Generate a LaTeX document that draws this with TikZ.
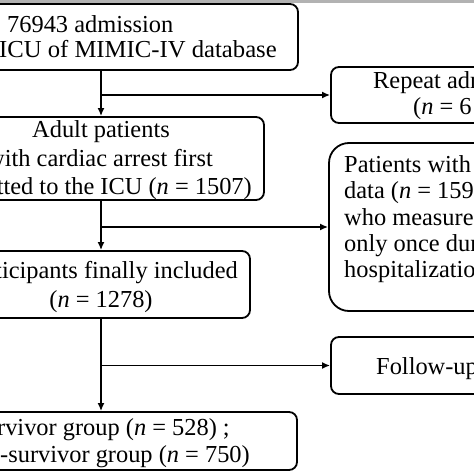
\documentclass[tikz,border=0pt]{standalone}
\usepackage{fontspec}
\setmainfont{Liberation Serif}
\usetikzlibrary{arrows.meta}
\begin{document}
\begin{tikzpicture}[x=1pt,y=1pt,
  box/.style={draw, line width=1.8pt, rounded corners=8pt, inner sep=0pt, fill=white},
  txt/.style={font=\fontsize{24.4}{28}\selectfont, inner sep=0pt},
  conn/.style={line width=1.8pt},
  arr/.style={line width=1.8pt, -{Latex[length=8pt,width=7pt]}}]
\useasboundingbox (0,0) rectangle (474,-474);
\clip (0,0) rectangle (474,-474);
\fill[white] (0,0) rectangle (474,-474);
\fill[gray!60] (0,0) rectangle (474,-2.5);
% boxes
\node[box, minimum width=328pt, minimum height=66pt] (top) at (134,-37) {};
\node[box, minimum width=189pt, minimum height=56pt] (repeat) at (425.5,-95) {};
\node[box, minimum width=304pt, minimum height=83pt] (adult) at (112,-158.5) {};
\node[box, rounded corners=20pt, minimum width=191pt, minimum height=168pt] (patients) at (424.5,-227) {};
\node[box, minimum width=290pt, minimum height=67pt] (part) at (105,-284.5) {};
\node[box, minimum width=189pt, minimum height=57pt] (follow) at (425.5,-365.5) {};
\node[box, minimum width=337pt, minimum height=58pt] (groups) at (128.5,-441) {};
% trunk
\coordinate (trunk) at (101,0);
\draw[arr] (trunk |- top.south) -- (trunk |- adult.north);
\draw[arr] (trunk |- repeat.west) -- (repeat.west);
\draw[arr] (trunk |- adult.south) -- (trunk |- part.north);
\draw[arr] (trunk |- patients.west) -- (patients.west);
\draw[arr] (trunk |- part.south) -- (trunk |- groups.north);
\draw[arr] (trunk |- follow.west) -- (follow.west);
% texts
\node[txt, anchor=base west] (t1) at (7,-32) {76943 admission};
\node[txt, anchor=base east] (t2) at (277,-57) {\scalebox{1.012}[1]{ICU of MIMIC-IV database}};
\node[txt, anchor=base west] (r1) at (373,-88) {Repeat adm};
\node[txt, anchor=base west] (r2) at (413,-114) {(\textit{n} = 6};
\node[txt, anchor=base] (a1) at (101,-137) {Adult patients};
\node[txt, anchor=base east] (a2) at (213,-166) {with cardiac arrest first};
\node[txt, anchor=base east] (a3) at (252,-194) {tted to the ICU (\textit{n} = 1507)};
\node[txt, anchor=base west] (p1) at (344,-172) {Patients with};
\node[txt, anchor=base west] (p2) at (344,-198) {data (\textit{n} = 159};
\node[txt, anchor=base west] (p3) at (344,-225) {who measure};
\node[txt, anchor=base west] (p4) at (344,-251) {only once dur};
\node[txt, anchor=base west] (p5) at (344,-277) {hospitalizatio};
\node[txt, anchor=base east] (f1) at (238,-278) {ticipants finally included};
\node[txt, anchor=base] (f2) at (101,-307) {(\textit{n} = 1278)};
\node[txt, anchor=base west] (fu) at (376,-374) {Follow-up};
\node[txt, anchor=base east] (g1) at (230,-435) {rvivor group (\textit{n} = 528) ;};
\node[txt, anchor=base east] (g2) at (250,-462) {-survivor group (\textit{n} = 750)};
\end{tikzpicture}
\end{document}
